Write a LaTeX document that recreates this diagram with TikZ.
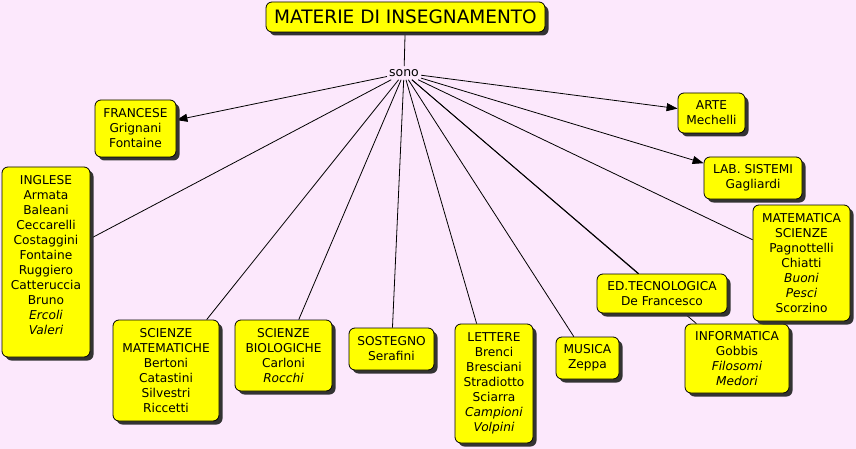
\documentclass[tikz,border=0pt]{standalone}
\usepackage{fontspec}
\setmainfont{DejaVu Sans}
\usetikzlibrary{arrows.meta,shadows}
\definecolor{bg}{HTML}{FCE8FC}
\definecolor{cy}{HTML}{FFFF00}
\pgfdeclarelayer{background}
\pgfsetlayers{background,main}
\tikzset{
 concept/.style={draw=black, line width=0.8pt, fill=cy, rounded corners=6pt, align=center,
   font=\fontsize{12.2}{15}\selectfont, inner sep=0pt,
   drop shadow={shadow xshift=3.5pt, shadow yshift=-3.5pt, fill=black!80, opacity=1}},
 link/.style={draw=black, line width=0.8pt},
 arr/.style={link, -{Triangle[length=11pt,width=8pt]}},
}
\begin{document}
\begin{tikzpicture}[x=1pt,y=-1pt]
\useasboundingbox (0,0) rectangle (856,449);

\node[concept, minimum width=279pt, minimum height=30pt, font=\fontsize{18.5}{20}\selectfont] (title) at (405.5,17) {MATERIE DI INSEGNAMENTO};
\node[font=\fontsize{12.5}{14}\selectfont, inner xsep=2pt, inner ysep=3pt] (sono) at (404,73) {sono};

\node[concept, minimum width=81pt, minimum height=57pt] (fr) at (135.5,128.5) {FRANCESE\\Grignani\\Fontaine};
\node[concept, minimum width=88pt, minimum height=190pt] (en) at (46,262) {INGLESE\\Armata\\Baleani\\Ceccarelli\\Costaggini\\Fontaine\\Ruggiero\\Catteruccia\\Bruno\\\textit{Ercoli}\\\textit{Valeri}\\\mbox{}};
\node[concept, minimum width=106pt, minimum height=101pt] (scm) at (166,370.5) {SCIENZE\\MATEMATICHE\\Bertoni\\Catastini\\Silvestri\\Riccetti};
\node[concept, minimum width=97pt, minimum height=71pt] (scb) at (283.5,355.5) {SCIENZE\\BIOLOGICHE\\Carloni\\\textit{Rocchi}};
\node[concept, minimum width=85pt, minimum height=42pt] (sos) at (391.5,349) {SOSTEGNO\\Serafini};
\node[concept, minimum width=78pt, minimum height=119pt] (let) at (494,383.5) {LETTERE\\Brenci\\Bresciani\\Stradiotto\\Sciarra\\\textit{Campioni}\\\textit{Volpini}};
\node[concept, minimum width=63pt, minimum height=42pt] (mus) at (587.5,358) {MUSICA\\Zeppa};
\node[concept, minimum width=104pt, minimum height=69pt] (inf) at (737,358.5) {INFORMATICA\\Gobbis\\\textit{Filosomi}\\\textit{Medori}};
\node[concept, minimum width=130pt, minimum height=39pt] (edt) at (662,293.5) {ED.TECNOLOGICA\\De Francesco};
\node[concept, minimum width=97pt, minimum height=116pt] (mat) at (801.5,263) {MATEMATICA\\SCIENZE\\Pagnottelli\\Chiatti\\\textit{Buoni}\\\textit{Pesci}\\Scorzino};
\node[concept, minimum width=98pt, minimum height=42pt] (lab) at (753,178) {LAB. SISTEMI\\Gagliardi};
\node[concept, minimum width=67pt, minimum height=40pt] (arte) at (711.5,113) {ARTE\\Mechelli};

\begin{pgfonlayer}{background}
\fill[bg] (0,0) rectangle (856,449);
\draw[link] (title) -- (sono);
\draw[arr] (sono) -- (fr);
\draw[link] (sono) -- (en);
\draw[link] (sono) -- (scm);
\draw[link] (sono) -- (scb);
\draw[link] (sono) -- (sos);
\draw[link] (sono) -- (let);
\draw[link] (sono) -- (mus);
\draw[link] (sono) -- (edt);
\draw[link] (sono) -- (inf);
\draw[link] (sono) -- (mat);
\draw[arr] (sono) -- (lab);
\draw[arr] (sono) -- (arte);
\end{pgfonlayer}
\end{tikzpicture}
\end{document}
